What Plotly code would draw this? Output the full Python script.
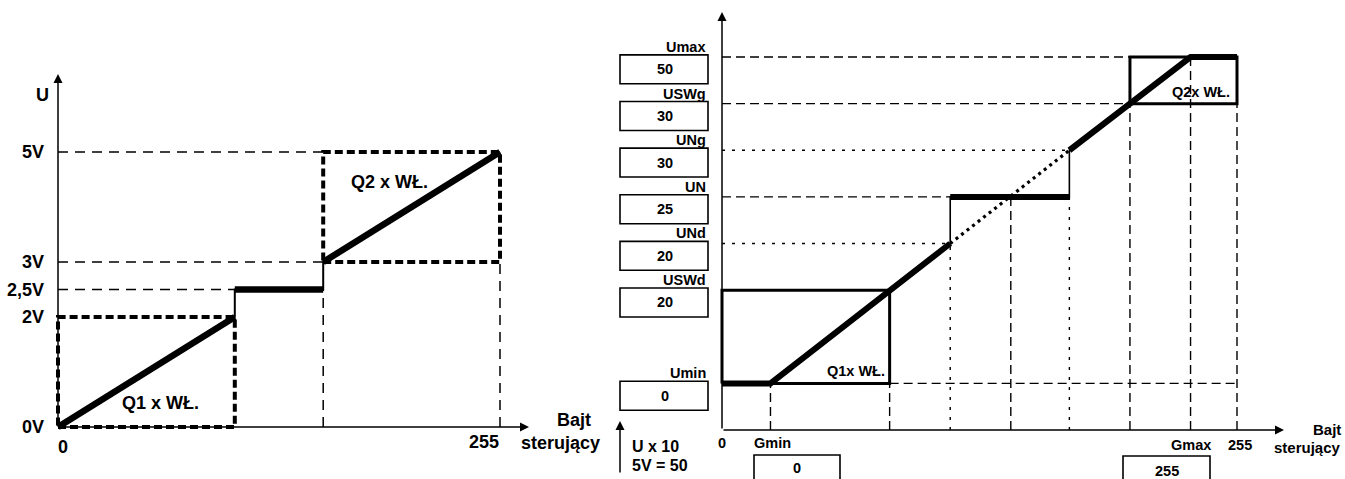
import plotly.graph_objects as go

W, H = 1345, 479
FONT = "Liberation Sans, Arial, sans-serif"

# ---------------- data: left chart (byte value vs. voltage) ----------------
L_BYTE_MARKS = [0, 102, 153, 255]            # 0, end of Q1 range, start of Q2 range, 255
L_VOLT_TICKS = [0, 2, 2.5, 3, 5]
L_VOLT_TEXT = ["0V", "2V", "2,5V", "3V", "5V"]
L_CURVE_X = [0, 102, 102, 153, 153, 255]
L_CURVE_Y = [0, 2, 2.5, 2.5, 3, 5]
L_Q1_BOX = [0, 102, 0, 2]                    # x0, x1, y0, y1
L_Q2_BOX = [153, 255, 3, 5]

# ---------------- data: right chart (schematic parameter levels) -----------
R_LEVEL_NAMES = ["Umin", "USWd", "UNd", "UN", "UNg", "USWg", "Umax"]
R_LEVEL_VALUES = ["0", "20", "20", "25", "30", "30", "50"]
R_LEVEL_POS = [1, 3, 4, 5, 6, 7, 8]          # schematic vertical positions
# byte positions: 0, Gmin, x@USWd, x@UNd, x@UN, x@UNg, x@USWg, Gmax, 255
R_BYTE_MARKS = [0, 24, 83, 113, 143, 172, 202, 232, 255]
R_G_NAMES = ["Gmin", "Gmax"]
R_G_VALUES = ["0", "255"]
R_CURVE_X = [0, 24, 113, 113, 172, 172, 232, 255]
R_CURVE_Y = [1, 1, 4, 5, 5, 6, 8, 8]
R_LINEAR_X = [113, 172]
R_LINEAR_Y = [4, 6]


def lin_range(d0, p0, d1, p1, pa, pb):
    s = (p1 - p0) / (d1 - d0)
    return [d0 + (pa - p0) / s, d0 + (pb - p0) / s]


def mapper(d0, p0, d1, p1):
    s = (p1 - p0) / (d1 - d0)
    return lambda p: d0 + (p - p0) / s


SPLIT = 605
LXR = lin_range(0, 58, 255, 500, 0, SPLIT)
LYR = lin_range(0, 427, 5, 152, H, 0)
RXR = lin_range(0, 722, 255, 1237, SPLIT, W)
RYR = lin_range(0, 430, 8, 57, H, 0)
lx = mapper(0, 58, 255, 500)
ly = mapper(0, 427, 5, 152)
rx = mapper(0, 722, 255, 1237)
ry = mapper(0, 430, 8, 57)

fig = go.Figure()


def add_line(x, y, width, dash="solid", xa="x", ya="y"):
    fig.add_trace(go.Scatter(x=x, y=y, mode="lines",
                             line=dict(color="black", width=width, dash=dash),
                             xaxis=xa, yaxis=ya, hoverinfo="skip",
                             showlegend=False))


def box_xy(b):
    x0, x1, y0, y1 = b
    return [x0, x1, x1, x0, x0], [y0, y0, y1, y1, y0]


# ======================= LEFT CHART =======================
LTHIN = "10px,7px"
LTHICK = "8px,4px"
b0, bq1, bq2, b255 = L_BYTE_MARKS
v0, v2, v25, v3, v5 = L_VOLT_TICKS
# thin dashed guides
add_line([0, bq2], [v5, v5], 1.5, LTHIN)
add_line([0, bq2], [v3, v3], 1.5, LTHIN)
add_line([0, bq1], [v25, v25], 1.5, LTHIN)
add_line([bq2, bq2], [0, v25], 1.5, LTHIN)
add_line([b255, b255], [0, v3], 1.5, LTHIN)
# thick dashed boxes
bx, by = box_xy(L_Q1_BOX)
add_line(bx, by, 4, LTHICK)
bx, by = box_xy(L_Q2_BOX)
add_line(bx, by, 4, LTHICK)
# transfer curve: thin risers + thick segments
add_line(L_CURVE_X, L_CURVE_Y, 2)
X, Y = L_CURVE_X, L_CURVE_Y
add_line([X[0], X[1], None, X[2], X[3], None, X[4], X[5]],
         [Y[0], Y[1], None, Y[2], Y[3], None, Y[4], Y[5]], 6.5)

# ======================= RIGHT CHART =======================
RD = "9px,5px"
RDOT = "3px,7px"
lv = dict(zip(R_LEVEL_NAMES, R_LEVEL_POS))
g0, gmin, xswd, xund, xun, xung, xswg, gmax, g255 = R_BYTE_MARKS
hguides = [
    (lv["Umax"], 0, xswg, RD),
    (lv["USWg"], 0, xswg, RD),
    (lv["UNg"], 0, xung, RDOT),
    (lv["UN"], 0, xund, RD),
    (lv["UNd"], 0, xund, RDOT),
    (lv["Umin"], xswd, g255, RD),
]
vguides = [
    (gmin, lv["Umin"], RD),
    (xswd, lv["Umin"], RD),
    (xund, lv["UNd"], RDOT),
    (xun, lv["UN"], RD),
    (xung, lv["UN"], RDOT),
    (xswg, lv["USWg"], RD),
    (gmax, lv["Umax"], RD),
    (g255, lv["USWg"], RD),
]
for yv, xa0, xa1, d in hguides:
    add_line([xa0, xa1], [yv, yv], 1.4, d, "x2", "y2")
for xv, ytop, d in vguides:
    add_line([xv, xv], [0, ytop], 1.4, d, "x2", "y2")
# Q boxes (solid)
bx, by = box_xy([0, xswd, lv["Umin"], lv["USWd"]])
add_line(bx, by, 3, "solid", "x2", "y2")
bx, by = box_xy([xswg, g255, lv["USWg"], lv["Umax"]])
add_line(bx, by, 3, "solid", "x2", "y2")
# dotted linear continuation
add_line(R_LINEAR_X, R_LINEAR_Y, 3.2, "3px,4px", "x2", "y2")
# curve
add_line(R_CURVE_X, R_CURVE_Y, 1.6, "solid", "x2", "y2")
X, Y = R_CURVE_X, R_CURVE_Y
add_line([X[0], X[1], X[2], None, X[3], X[4], None, X[5], X[6], X[7]],
         [Y[0], Y[1], Y[2], None, Y[3], Y[4], None, Y[5], Y[6], Y[7]],
         6, "solid", "x2", "y2")

# ---------------- shapes: parameter boxes ----------------
shapes = []
for name, pos in zip(R_LEVEL_NAMES, R_LEVEL_POS):
    top = pos + 0.045
    shapes.append(dict(type="rect", xref="x2", yref="y2",
                       x0=rx(620), x1=rx(708), y0=top - 0.62, y1=top,
                       line=dict(color="black", width=1.6)))
shapes.append(dict(type="rect", xref="x2", yref="y2", x0=rx(754), x1=rx(840),
                   y0=ry(520), y1=ry(455), line=dict(color="black", width=1.6)))
shapes.append(dict(type="rect", xref="x2", yref="y2", x0=rx(1123), x1=rx(1210),
                   y0=ry(520), y1=ry(456), line=dict(color="black", width=1.6)))

# ---------------- annotations ----------------
ann = []


def txt(x, y, s, size, xa, ya, xanchor="center", yanchor="middle"):
    ann.append(dict(x=x, y=y, text=s, xref=xa, yref=ya, showarrow=False,
                    xanchor=xanchor, yanchor=yanchor,
                    font=dict(family=FONT, size=size, color="black",
                              weight="bold")))


def arrow(x, y, ax, ay, xa, ya):
    ann.append(dict(x=x, y=y, ax=ax, ay=ay, xref=xa, yref=ya, axref=xa,
                    ayref=ya, text="", showarrow=True, arrowhead=2,
                    arrowsize=1.2, arrowwidth=1.5, arrowcolor="black",
                    standoff=0, startstandoff=0))


# left axes
arrow(0, ly(74), 0, 0, "x", "y")
arrow(lx(529), 0, 0, 0, "x", "y")
LF = 18
txt(lx(42), ly(95), "U", LF, "x", "y")
for v, t in zip(L_VOLT_TICKS, L_VOLT_TEXT):
    txt(lx(46), v, t, LF, "x", "y", xanchor="right")
txt(lx(63), ly(447), "0", LF, "x", "y")
txt(b255 - 9, ly(442), "255", LF, "x", "y")
txt(lx(593), ly(420), "Bajt", LF, "x", "y", xanchor="right")
txt(lx(602), ly(443), "sterujący", LF, "x", "y", xanchor="right")
txt(lx(160), ly(403), "Q1 x WŁ.", LF, "x", "y")
txt(lx(389), ly(182), "Q2 x WŁ.", LF, "x", "y")

# right axes
arrow(0, ry(12), 0, 0, "x2", "y2")
arrow(rx(1284), 0, 0, 0, "x2", "y2")
RF = 14.5
for name, val, pos in zip(R_LEVEL_NAMES, R_LEVEL_VALUES, R_LEVEL_POS):
    top = pos + 0.045
    txt(rx(708), top + 0.17, name, RF, "x2", "y2", xanchor="right")
    txt(rx(665), top - 0.31, val, RF, "x2", "y2")
txt(0, ry(443), "0", RF, "x2", "y2")
txt(gmin + 1, ry(443), R_G_NAMES[0], RF, "x2", "y2")
txt(rx(797), ry(468), R_G_VALUES[0], RF, "x2", "y2")
txt(gmax, ry(445), R_G_NAMES[1], RF, "x2", "y2")
txt(rx(1167), ry(471), R_G_VALUES[1], RF, "x2", "y2")
txt(g255 + 1.5, ry(445), "255", RF, "x2", "y2")
txt(rx(1343), ry(429), "Bajt", 15, "x2", "y2", xanchor="right")
txt(rx(1343), ry(447), "sterujący", 15, "x2", "y2", xanchor="right")
txt(rx(630), ry(446), "U x 10", 16, "x2", "y2", xanchor="left")
txt(rx(630), ry(465), "5V = 50", 16, "x2", "y2", xanchor="left")
arrow(rx(620), ry(421), rx(620), ry(474), "x2", "y2")
txt(rx(887), ry(371), "Q1x WŁ.", RF, "x2", "y2", xanchor="right")
txt(rx(1232), ry(92), "Q2x WŁ.", RF, "x2", "y2", xanchor="right")

fig.update_layout(
    width=W, height=H, margin=dict(l=0, r=0, t=0, b=0),
    paper_bgcolor="white", plot_bgcolor="white", showlegend=False,
    xaxis=dict(domain=[0, SPLIT / W], range=LXR, visible=False, anchor="y"),
    yaxis=dict(domain=[0, 1], range=LYR, visible=False, anchor="x"),
    xaxis2=dict(domain=[SPLIT / W, 1], range=RXR, visible=False, anchor="y2"),
    yaxis2=dict(domain=[0, 1], range=RYR, visible=False, anchor="x2"),
    shapes=shapes, annotations=ann,
)
fig.write_html(
    "out.html",
    config={"displayModeBar": False, "staticPlot": True},
    post_script="document.body.style.margin='0';"
                "document.body.style.overflow='hidden';",
)
